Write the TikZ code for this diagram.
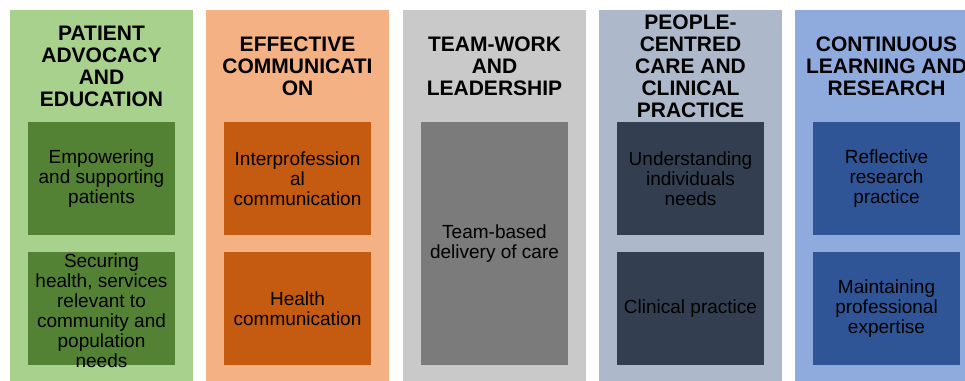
\documentclass[tikz,border=0pt]{standalone}
\usepackage{fontspec}
\setmainfont{Liberation Sans}
\usepackage{xcolor}
\definecolor{advlight}{HTML}{A9D18E}
\definecolor{advdark}{HTML}{548235}
\definecolor{comlight}{HTML}{F4B183}
\definecolor{comdark}{HTML}{C55A11}
\definecolor{teamlight}{HTML}{C9C9C9}
\definecolor{teamdark}{HTML}{7B7B7B}
\definecolor{carelight}{HTML}{ADB9CA}
\definecolor{caredark}{HTML}{333F50}
\definecolor{learnlight}{HTML}{8FAADC}
\definecolor{learndark}{HTML}{2F5597}
\usepackage{tikz}
\usetikzlibrary{positioning}

\begin{document}
\begin{tikzpicture}[
    x=1pt, y=-1pt,
    column/.style={rectangle, minimum width=183pt, minimum height=375pt, inner sep=0pt},
    header/.style={font=\fontsize{21}{22}\selectfont\bfseries, align=center, text=black, inner sep=0pt},
    skill/.style={rectangle, minimum width=147pt, minimum height=113pt, inner sep=0pt,
                  font=\fontsize{19}{20}\selectfont, align=center, text=black},
  ]
    \useasboundingbox (0,0) rectangle (965,380);
    \clip (0,0) rectangle (965,380);
    \fill[white] (0,0) rectangle (965,380);

    % --- Column backgrounds ---
    \foreach \name/\x/\col in {adv/101.5/advlight, com/297.5/comlight, team/494.5/teamlight,
                               care/690.5/carelight, learn/886.5/learnlight} {
      \node[column, fill=\col] (\name) at (\x, 197.5) {};
    }

    % --- Column headings ---
    \node[header] (advhead)   at (101.5, 66) {PATIENT\\ADVOCACY\\AND\\EDUCATION};
    \node[header] (comhead)   at (297.5, 66) {EFFECTIVE\\COMMUNICATI\\ON};
    \node[header] (teamhead)  at (494.5, 66) {TEAM-WORK\\AND\\LEADERSHIP};
    \node[header] (carehead)  at (690.5, 66) {PEOPLE-\\CENTRED\\CARE AND\\CLINICAL\\PRACTICE};
    \node[header] (learnhead) at (886.5, 66) {CONTINUOUS\\LEARNING AND\\RESEARCH};

    % --- Upper boxes ---
    \node[skill, fill=advdark]   (empower)  at (101.5, 178.5) {Empowering\\and supporting\\patients};
    \node[skill, fill=comdark]   (interpro) at (297.5, 178.5) {Interprofession\\al\\communication};
    \node[skill, fill=caredark]  (underst)  at (690.5, 178.5) {Understanding\\individuals\\needs};
    \node[skill, fill=learndark] (reflect)  at (886.5, 178.5) {Reflective\\research\\practice};

    % --- Lower boxes ---
    \node[skill, fill=advdark]   (securing) at (101.5, 308.5) {};
    \node[font=\fontsize{19}{20}\selectfont, align=center] at (101.5, 311)
      {Securing\\health, services\\relevant to\\community and\\population\\needs};
    \node[skill, fill=comdark]   (healthcom) at (297.5, 308.5) {Health\\communication};
    \node[skill, fill=caredark]  (clinical)  at (690.5, 308.5) {Clinical practice};
    \node[skill, fill=learndark] (maintain)  at (886.5, 308.5) {Maintaining\\professional\\expertise};

    % --- Tall box of the middle column ---
    \node[skill, fill=teamdark, minimum height=243pt] (teambased) at (494.5, 243.5)
      {Team-based\\delivery of care};
  \end{tikzpicture}
\end{document}
